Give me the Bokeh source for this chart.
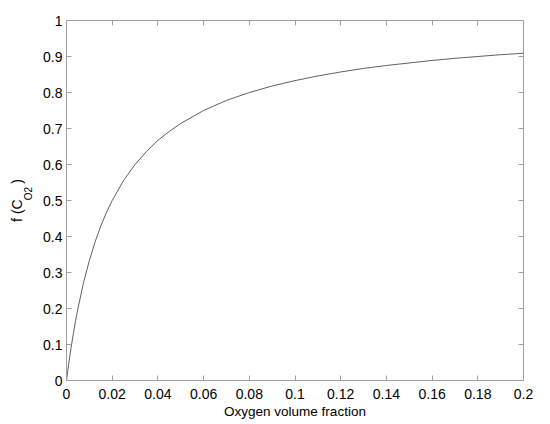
from bokeh.plotting import figure
from bokeh.models import LinearAxis, Range1d, FixedTicker
from bokeh.embed import file_html
from bokeh.resources import INLINE

# values
oxygen_fraction = [0.0, 0.0005, 0.001, 0.002, 0.003, 0.004, 0.005, 0.0075, 0.01, 0.0125,
                   0.015, 0.0175, 0.02, 0.025, 0.03, 0.035, 0.04, 0.045, 0.05, 0.06,
                   0.07, 0.08, 0.09, 0.10, 0.11, 0.12, 0.13, 0.14, 0.15, 0.16,
                   0.17, 0.18, 0.19, 0.20]
f_co2 = [0.0, 0.025, 0.048, 0.091, 0.13, 0.167, 0.2, 0.273, 0.333, 0.385,
         0.429, 0.467, 0.5, 0.556, 0.6, 0.636, 0.667, 0.692, 0.714, 0.75,
         0.778, 0.8, 0.818, 0.833, 0.846, 0.857, 0.867, 0.875, 0.882, 0.889,
         0.895, 0.9, 0.905, 0.909]
x_ticks = [0, 0.02, 0.04, 0.06, 0.08, 0.1, 0.12, 0.14, 0.16, 0.18, 0.2]
y_ticks = [0, 0.1, 0.2, 0.3, 0.4, 0.5, 0.6, 0.7, 0.8, 0.9, 1.0]
x_label = "Oxygen volume fraction"
y_label_main = "f (C\u00a0\u00a0\u00a0\u00a0)"
y_label_sub = "\u00a0\u00a0\u00a0\u00a0\u00a0O2"

FONT = "Liberation Sans"
FRAME = "#a0a0a0"

p = figure(width=534, height=424, output_backend="svg", toolbar_location=None,
           x_range=Range1d(0, 0.2), y_range=Range1d(0, 1),
           min_border_left=66, min_border_right=11, min_border_top=20, min_border_bottom=44,
           x_axis_label=x_label, y_axis_label=y_label_sub)
p.background_fill_color = "white"
p.border_fill_color = "white"
p.outline_line_color = FRAME
p.xgrid.visible = False
p.ygrid.visible = False

def fmt_axis(ax, ticks, show_labels=True):
    ax.ticker = FixedTicker(ticks=ticks)
    ax.axis_line_color = FRAME
    ax.major_tick_line_color = FRAME
    ax.major_tick_in = 5
    ax.major_tick_out = 0
    ax.minor_tick_line_color = None
    ax.major_label_text_font = FONT
    ax.major_label_text_font_size = "14px"
    ax.major_label_text_color = "black"
    ax.major_label_standoff = 4
    ax.major_label_overrides = {t: (("%g" % t) if show_labels else "") for t in ticks}
    if not show_labels:
        ax.major_label_text_font_size = "0px"
        ax.major_label_standoff = 0

fmt_axis(p.xaxis[0], x_ticks)
fmt_axis(p.yaxis[0], y_ticks)
p.xaxis[0].major_label_standoff = 8
p.xaxis[0].axis_label_text_font = FONT
p.xaxis[0].axis_label_text_font_size = "13.5px"
p.xaxis[0].axis_label_text_font_style = "normal"
p.xaxis[0].axis_label_text_color = "black"
p.xaxis[0].axis_label_standoff = 2

# subscript "O2" of the y label (inner)
p.yaxis[0].axis_label_text_font = FONT
p.yaxis[0].axis_label_text_font_size = "10px"
p.yaxis[0].axis_label_text_font_style = "normal"
p.yaxis[0].axis_label_text_color = "black"
p.yaxis[0].axis_label_standoff = 6

top = LinearAxis()
fmt_axis(top, x_ticks, False)
p.add_layout(top, "above")
right = LinearAxis()
fmt_axis(right, y_ticks, False)
p.add_layout(right, "right")

# main part "f (C   )" of the y label (outer)
outer = LinearAxis(axis_label=y_label_main)
outer.ticker = FixedTicker(ticks=[])
outer.axis_line_color = None
outer.major_tick_in = 0
outer.major_tick_out = 0
outer.minor_tick_line_color = None
outer.major_label_standoff = 0
outer.major_label_text_font_size = "0px"
outer.axis_label_text_font = FONT
outer.axis_label_text_font_size = "14px"
outer.axis_label_text_font_style = "normal"
outer.axis_label_text_color = "black"
outer.axis_label_standoff = -4
p.add_layout(outer, "left")

p.line(oxygen_fraction, f_co2, line_color="#606060", line_width=1)

open("out.html", "w").write(file_html(p, INLINE))
